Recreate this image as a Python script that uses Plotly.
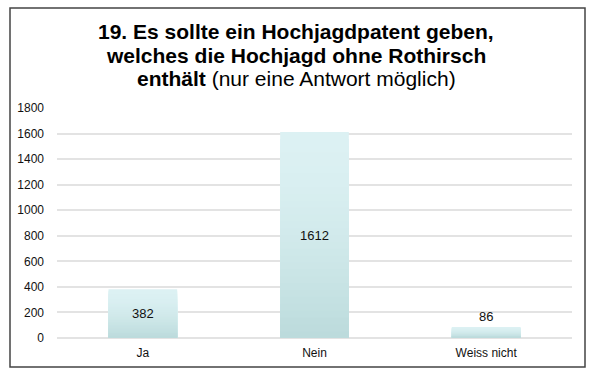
import plotly.graph_objects as go

categories = ["Ja", "Nein", "Weiss nicht"]
values = [382, 1612, 86]
y_ticks = [0, 200, 400, 600, 800, 1000, 1200, 1400, 1600, 1800]
title_lines = ["<b>19. Es sollte ein Hochjagdpatent geben,</b>",
               "<b>welches die Hochjagd ohne Rothirsch</b>",
               "<b>enthält</b> (nur eine Antwort möglich)"]

FONT = "Liberation Sans, Arial, sans-serif"
W, H = 592, 373
L, R, T, B = 57, 20, 108, 35
PW, PH = W - L - R, H - T - B

TOP_RGB = (220, 241, 243)
BOT_RGB = (188, 219, 220)
STEPS = 30

def px_x(x):
    return (x - L) / PW

def px_y(y):
    return (H - B - y) / PH

def mix(t):
    # t = 0 -> top colour, t = 1 -> bottom colour (ease so the bottom darkens faster)
    t = t ** 1.6
    c = [round(a + (b - a) * t) for a, b in zip(TOP_RGB, BOT_RGB)]
    return "rgb({},{},{})".format(*c)

fig = go.Figure()
# vertical gradient fill: stacked-over copies of each bar, shrinking from its top
for k in range(STEPS):
    frac = 1 - k / STEPS
    fig.add_trace(go.Bar(
        x=categories, y=[v * frac for v in values],
        marker=dict(color=mix(k / (STEPS - 1)), line=dict(width=0)),
        hoverinfo="skip", showlegend=False,
    ))
# value labels
fig.add_trace(go.Bar(
    x=categories, y=values,
    marker=dict(color="rgba(0,0,0,0)", line=dict(width=0)),
    text=[str(v) for v in values],
    textposition=["inside", "inside", "outside"],
    insidetextanchor="middle",
    textfont=dict(family=FONT, size=13, color="#111111"),
    cliponaxis=False, showlegend=False,
))

annotations = []
for i, line in enumerate(title_lines):
    annotations.append(dict(
        text=line, xref="paper", yref="paper",
        x=px_x(296), y=px_y(32 + 23 * i),
        xanchor="center", yanchor="middle", showarrow=False,
        font=dict(family=FONT, size=21, color="#000000")))

fig.update_layout(
    width=W, height=H,
    margin=dict(l=L, r=R, t=T, b=B),
    paper_bgcolor="white", plot_bgcolor="white",
    barmode="overlay",
    bargap=0.6,
    showlegend=False,
    font=dict(family=FONT, size=12, color="#111111"),
    annotations=annotations,
    xaxis=dict(showgrid=False, showline=False, ticks="", ticklabelstandoff=6,
               tickfont=dict(family=FONT, size=12, color="#111111")),
    yaxis=dict(range=[0, 1800], tickvals=y_ticks, showgrid=True,
               gridcolor="#e3e3e3", gridwidth=1.5, zeroline=True,
               zerolinecolor="#e3e3e3", zerolinewidth=1.5, showline=False,
               ticks="", ticklabelstandoff=12,
               tickfont=dict(family=FONT, size=12, color="#111111")),
    shapes=[dict(type="rect", xref="paper", yref="paper",
                 x0=px_x(10), x1=px_x(585), y0=px_y(367), y1=px_y(8),
                 line=dict(color="#444444", width=1.5), layer="above")],
)

fig.write_html("out.html", config={"displayModeBar": False},
               post_script="document.body.style.margin='0';document.body.style.padding='0';")
